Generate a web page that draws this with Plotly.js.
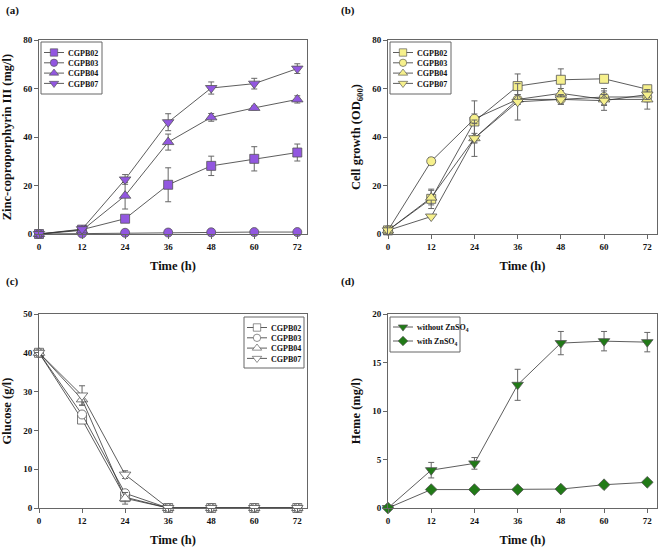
<!DOCTYPE html>
<html>
<head>
<meta charset="utf-8">
<script src="https://cdn.plot.ly/plotly-3.0.1.min.js"></script>
<style>
  html, body { margin: 0; padding: 0; background: #fff; }
  #chart { width: 660px; height: 548px; }
</style>
</head>
<body>
<div id="chart"></div>
<script>
"use strict";

const time = [0, 12, 24, 36, 48, 60, 72];
const strains = ["CGPB02", "CGPB03", "CGPB04", "CGPB07"];

// (a) zinc-coproporphyrin III, mg/l
const zn02 = [0, 1.8, 6.3, 20.3, 28.1, 31.0, 33.6];
const zn02Err = [0, 0.5, 1.0, 7.0, 4.0, 5.0, 3.5];
const zn03 = [0, 0.2, 0.5, 0.6, 0.7, 0.8, 0.8];
const zn03Err = [0, 0.1, 0.1, 0.1, 0.1, 0.1, 0.1];
const zn04 = [0, 1.5, 15.8, 37.9, 48.1, 52.0, 55.5];
const zn04Err = [0, 0.5, 5.5, 3.3, 1.6, 0.8, 1.5];
const zn07 = [0, 2.0, 22.5, 46.1, 60.2, 62.0, 68.2];
const zn07Err = [0, 0.5, 2.0, 3.5, 2.5, 2.2, 2.0];

// (b) cell growth, OD600
const od02 = [1.5, 14.5, 46.4, 61.0, 63.6, 64.0, 59.7];
const od02Err = [0.5, 4.0, 8.5, 5.0, 4.5, 1.0, 1.0];
const od03 = [1.5, 30.0, 47.5, 55.5, 55.5, 56.5, 56.5];
const od03Err = [0.5, 1.5, 2.0, 2.0, 2.0, 3.5, 2.0];
const od04 = [1.5, 15.0, 39.5, 55.5, 58.0, 55.5, 55.5];
const od04Err = [0.5, 3.0, 2.0, 2.0, 2.0, 2.0, 4.0];
const od07 = [1.5, 7.2, 39.5, 54.5, 55.5, 55.0, 57.5];
const od07Err = [0.5, 0.5, 7.5, 7.5, 2.0, 4.0, 2.0];

// (c) glucose, g/l
const gl02 = [40, 22.8, 2.8, 0, 0, 0, 0];
const gl02Err = [0, 0.5, 0.8, 0, 0, 0, 0];
const gl03 = [40, 24.1, 3.8, 0, 0, 0, 0];
const gl03Err = [0, 0.8, 0.8, 0, 0, 0, 0];
const gl04 = [40, 28.0, 2.5, 0, 0, 0, 0];
const gl04Err = [0, 1.5, 1.5, 0, 0, 0, 0];
const gl07 = [40, 29.0, 8.6, 0, 0, 0, 0];
const gl07Err = [0, 2.5, 1.0, 0, 0, 0, 0];

// (d) heme, mg/l
const hemeLabels = ["without ZnSO<sub>4</sub>", "with ZnSO<sub>4</sub>"];
const hemeNo = [0, 3.9, 4.6, 12.7, 17.0, 17.2, 17.1];
const hemeNoErr = [0, 0.8, 0.6, 1.6, 1.2, 1.0, 1.0];
const hemeZn = [0, 1.9, 1.9, 1.9, 1.95, 2.4, 2.65];
const hemeZnErr = [0, 0.1, 0.1, 0.1, 0.1, 0.1, 0.1];

const FONT = "Liberation Serif, Times New Roman, serif";
const symbols = ["square", "circle", "triangle-up", "triangle-down"];

function series(name, y, err, symbol, fill, ax, legend) {
  return {
    type: "scatter",
    mode: "lines+markers",
    name: name,
    x: time,
    y: y,
    xaxis: "x" + ax,
    yaxis: "y" + ax,
    legend: legend,
    cliponaxis: false,
    line: { color: "#333", width: 0.8 },
    marker: {
      symbol: symbol,
      size: symbol.startsWith("triangle") ? 10 : 9,
      color: fill,
      line: { color: "#555", width: 0.8 },
    },
    error_y: { type: "data", array: err, visible: true, color: "#666", thickness: 1, width: 3 },
  };
}

const purple = "#9257e0";
const yellow = "#f6f08c";
const green = "#217a17";

const traces = [];
[[zn02, zn02Err], [zn03, zn03Err], [zn04, zn04Err], [zn07, zn07Err]].forEach(([y, e], i) =>
  traces.push(series(strains[i], y, e, symbols[i], purple, "", "legend")));
[[od02, od02Err], [od03, od03Err], [od04, od04Err], [od07, od07Err]].forEach(([y, e], i) =>
  traces.push(series(strains[i], y, e, symbols[i], yellow, "2", "legend2")));
[[gl02, gl02Err], [gl03, gl03Err], [gl04, gl04Err], [gl07, gl07Err]].forEach(([y, e], i) =>
  traces.push(series(strains[i], y, e, symbols[i], "#fff", "3", "legend3")));
traces.push(series(hemeLabels[0], hemeNo, hemeNoErr, "triangle-down", green, "4", "legend4"));
traces.push(series(hemeLabels[1], hemeZn, hemeZnErr, "diamond", green, "4", "legend4"));

const tickFont = { family: FONT, size: 9, weight: "bold", color: "#111" };
const titleFont = { family: FONT, size: 12.5, weight: "bold", color: "#111" };

function xAxis(domain, anchor) {
  return {
    domain: domain, anchor: anchor, range: [0, 74.7],
    tickvals: time, ticks: "outside", ticklen: 4, tickcolor: "#666",
    showline: true, mirror: true, linecolor: "#666", linewidth: 1,
    showgrid: false, zeroline: false, tickfont: tickFont,
    title: { text: "Time (h)", font: titleFont, standoff: 10 },
  };
}
function yAxis(domain, anchor, range, dtick, title) {
  return {
    domain: domain, anchor: anchor, range: range, dtick: dtick,
    ticks: "outside", ticklen: 4, tickcolor: "#666",
    showline: true, mirror: true, linecolor: "#666", linewidth: 1,
    showgrid: false, zeroline: false, tickfont: tickFont,
    title: { text: title, font: titleFont, standoff: 8 },
  };
}

// legend frames in pixels: left, top, right, bottom
const legendFrames = {
  legend: [41, 42, 102, 94],
  legend2: [390, 42, 451, 94],
  legend3: [244, 317, 304, 368],
  legend4: [390, 317, 460, 352],
};
// first row centre and row step, pixels
const legendRows = {
  legend: [10.5, 10.3], legend2: [10.5, 10.3], legend3: [10.5, 10.3], legend4: [10, 14],
};

function legendBox(key) {
  const [l, t] = legendFrames[key];
  return {
    x: l / 660, y: 1 - t / 548, xanchor: "left", yanchor: "top",
    bgcolor: "rgba(0,0,0,0)", borderwidth: 0,
    font: { family: FONT, size: 8, weight: "bold", color: "#111" },
    itemwidth: 30, tracegroupgap: 0,
  };
}

const leftCol = [39 / 660, 307 / 660];
const rightCol = [388 / 660, 657 / 660];
const topRow = [314 / 548, 508 / 548];
const bottomRow = [40 / 548, 234 / 548];

const layout = {
  width: 660, height: 548,
  margin: { l: 0, r: 0, t: 0, b: 0 },
  paper_bgcolor: "#fff", plot_bgcolor: "#fff",
  showlegend: true,
  xaxis: xAxis(leftCol, "y"),
  yaxis: yAxis(topRow, "x", [0, 80], 20, "Zinc-coproporphyrin III (mg/l)"),
  xaxis2: xAxis(rightCol, "y2"),
  yaxis2: yAxis(topRow, "x2", [0, 80], 20, "Cell growth (OD<sub>600</sub>)"),
  xaxis3: xAxis(leftCol, "y3"),
  yaxis3: yAxis(bottomRow, "x3", [0, 50], 10, "Glucose (g/l)"),
  xaxis4: xAxis(rightCol, "y4"),
  yaxis4: yAxis(bottomRow, "x4", [0, 20], 5, "Heme (mg/l)"),
  legend: legendBox("legend"),
  legend2: legendBox("legend2"),
  legend3: legendBox("legend3"),
  legend4: legendBox("legend4"),
  shapes: Object.values(legendFrames).map(([l, t, r, b]) => ({
    type: "rect", xref: "paper", yref: "paper", layer: "above",
    x0: l / 660, x1: r / 660, y0: 1 - b / 548, y1: 1 - t / 548,
    fillcolor: "#fff", line: { color: "#666", width: 1 },
  })),
  annotations: [
    ["(a)", 4, 10], ["(b)", 339, 10], ["(c)", 4, 281], ["(d)", 339, 281],
  ].map(([t, px, py]) => ({
    text: t, xref: "paper", yref: "paper", x: px / 660, y: 1 - py / 548,
    xanchor: "left", yanchor: "middle", showarrow: false,
    font: { family: FONT, size: 11, weight: "bold", color: "#111" },
  })),
};

// plotly keeps a 19px minimum row in legends; the figure packs them tighter
function tightenLegends(gd) {
  Object.keys(legendRows).forEach(key => {
    const leg = gd.querySelector("g.infolayer > g." + key);
    if (!leg) return;
    const [first, step] = legendRows[key];
    leg.querySelectorAll("g.traces").forEach((it, i) => {
      it.setAttribute("transform", `translate(0,${first + i * step})`);
      it.querySelectorAll("g.legendlines path").forEach(p => p.setAttribute("d", "M3,0h20"));
      it.querySelectorAll("g.legendpoints path").forEach(p => p.setAttribute("transform", "translate(13,0) scale(0.82)"));
      it.querySelectorAll("text").forEach(t => t.setAttribute("transform", "translate(-13,0)"));
    });
  });
}

// eslint-disable-next-line no-undef
Plotly.newPlot("chart", traces, layout, { displayModeBar: false, staticPlot: true })
  .then(gd => tightenLegends(gd));
</script>
</body>
</html>
